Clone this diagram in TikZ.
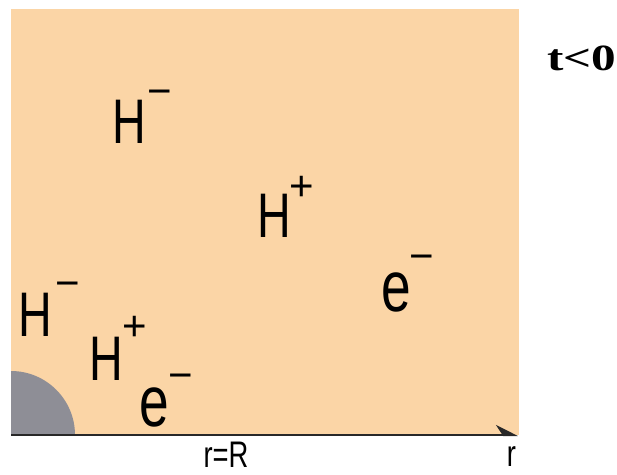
\documentclass[tikz,border=0pt]{standalone}
\usepackage{fontspec}
\setmainfont{Liberation Sans}
\newfontfamily\condfont{Liberation Sans}[FakeStretch=0.74]
\newfontfamily\signfont{Liberation Sans}
\newfontfamily\titlefont{Liberation Serif}[FakeStretch=1.33]
\usetikzlibrary{arrows.meta}
\definecolor{peach}{RGB}{251,213,166}
\definecolor{diskgray}{RGB}{142,142,150}
\definecolor{axisgray}{RGB}{40,40,40}
\begin{document}
\begin{tikzpicture}[x=1pt,y=-1pt,
  letter/.style={inner sep=0pt, anchor=base, font=\condfont\fontsize{63}{63}\selectfont},
  eletter/.style={inner sep=0pt, anchor=base, font=\condfont\fontsize{72}{72}\selectfont},
  sign/.style={inner sep=0pt, anchor=base, font=\signfont\fontsize{42}{42}\selectfont},
  axislabel/.style={inner sep=0pt, anchor=base, font=\condfont\fontsize{37}{37}\selectfont},
  title/.style={inner sep=0pt, anchor=base west, font=\titlefont\bfseries\fontsize{37}{37}\selectfont}]
\useasboundingbox (0,0) rectangle (617,474);
\clip (0,0) rectangle (617,474);
% background region
\fill[peach] (11,9) rectangle (519,435);
% sphere of radius R
\fill[diskgray] (11,435) -- (75,435) arc[start angle=0,end angle=-90,radius=64] -- cycle;
% axis
\coordinate (o) at (11,435);
\coordinate (tip) at (518,435);
\draw[axisgray, line width=2pt, -{Stealth[harpoon, length=20pt, width=20pt]}] (o) -- (tip);
% particles
\node[letter] (h1) at (129.5,143) {H};
\node[sign] (h1s) at (160,105) {−};
\node[letter] (h2) at (274.5,237) {H};
\node[sign] (h2s) at (302,200) {+};
\node[eletter] (e1) at (396,311) {e};
\node[sign] (e1s) at (422,270) {−};
\node[letter] (h3) at (35.5,336) {H};
\node[sign] (h3s) at (68,297) {−};
\node[letter] (h4) at (106.5,380) {H};
\node[sign] (h4s) at (135,340) {+};
\node[eletter] (e2) at (154,426) {e};
\node[sign] (e2s) at (180.5,389) {−};
% axis labels
\node[axislabel] (rR) at (226,467) {r=R};
\node[axislabel] (r) at (511.5,466) {r};
% time label
\node[title] (t) at (547,70) {t<0};
\end{tikzpicture}
\end{document}
